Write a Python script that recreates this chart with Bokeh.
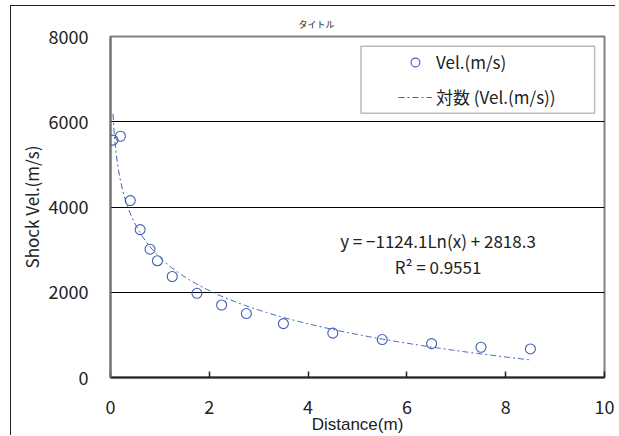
import numpy as np
from bokeh.plotting import figure
from bokeh.models import (ColumnDataSource, Label, Legend, LegendItem, BoxAnnotation,
                          FixedTicker, Range1d, InlineStyleSheet)
from bokeh.embed import file_html
from bokeh.resources import INLINE

# ---- data ----
distance = [0.05, 0.2, 0.4, 0.6, 0.8, 0.95, 1.25, 1.75, 2.25, 2.75, 3.5, 4.5, 5.5, 6.5, 7.5, 8.5]
velocity = [5570, 5660, 4150, 3470, 3010, 2740, 2370, 1975, 1700, 1500, 1265, 1040, 890, 795, 710, 670]
fit_a = -1124.1
fit_b = 2818.3
r_squared = 0.9551
x_ticks = [0, 2, 4, 6, 8, 10]
y_ticks = [0, 2000, 4000, 6000, 8000]
title_text = "タイトル"
x_label = "Distance(m)"
y_label = "Shock Vel.(m/s)"
series_name = "Vel.(m/s)"
trend_name = "対数 (Vel.(m/s))"

FONT = "Noto Sans CJK JP"
BLUE = "#3f5fb5"

sheet = InlineStyleSheet(css=":host { margin-left: 10px; margin-top: 5px; "
                             "border-left: 1px solid #222; border-top: 1px solid #222; }")

p = figure(width=605, height=430, output_backend="svg", toolbar_location=None,
           x_range=Range1d(0, 10), y_range=Range1d(0, 8000),
           min_border_left=99, min_border_right=12, min_border_top=30, min_border_bottom=50,
           stylesheets=[sheet])
p.background_fill_color = "white"
p.border_fill_color = "white"
p.outline_line_color = "#808080"
p.outline_line_width = 2

# title
p.title.text = title_text
p.title.align = "left"
p.title.offset = 188
p.title.text_font = FONT
p.title.text_font_size = "9px"
p.title.text_font_style = "normal"
p.title.text_color = "#222222"
p.title.standoff = 11

# grids
p.xgrid.visible = False
p.ygrid.ticker = FixedTicker(ticks=y_ticks)
p.ygrid.grid_line_color = "black"
p.ygrid.grid_line_width = 1

# axes
p.xaxis.ticker = FixedTicker(ticks=x_ticks)
p.yaxis.ticker = FixedTicker(ticks=y_ticks)
for ax in (p.xaxis[0], p.yaxis[0]):
    ax.major_label_text_font = FONT
    ax.major_label_text_font_size = "18px"
    ax.major_label_text_color = "#222222"
    ax.axis_label_text_font = FONT
    ax.axis_label_text_font_size = "17px"
    ax.axis_label_text_font_style = "normal"
    ax.axis_label_text_color = "#222222"
    ax.minor_tick_line_color = None
    ax.axis_line_width = 2
p.xaxis.axis_label_text_font = "Liberation Sans"
p.xaxis.axis_line_color = "#222222"
p.yaxis.axis_line_color = "#707070"
p.xaxis.major_tick_in = 6
p.xaxis.major_tick_out = 0
p.xaxis.major_tick_line_color = "#222222"
p.xaxis.major_tick_line_width = 1.5
p.yaxis.major_tick_in = 0
p.yaxis.major_tick_out = 0
p.xaxis.major_label_standoff = 22
p.yaxis.major_label_standoff = 22
p.xaxis.axis_label = x_label
p.yaxis.axis_label = y_label
p.xaxis.axis_label_standoff = -2
p.yaxis.axis_label_standoff = 2

# trend line from fitted coefficients
xs = np.linspace(min(distance), max(distance), 300)
ys = fit_a * np.log(xs) + fit_b
trend = p.line(xs, ys, line_color=BLUE, line_width=1, line_dash="6 3 2 3")

src = ColumnDataSource(dict(x=distance, y=velocity))
pts = p.scatter("x", "y", source=src, marker="circle", size=10, fill_color=None,
                line_color=BLUE, line_width=1.1)

# legend box
box = BoxAnnotation(left=5.07, right=9.80, top=7770, bottom=6200,
                    fill_color="white", fill_alpha=1, line_color="#222222", line_width=1.5)
p.add_layout(box)

legend = Legend(items=[LegendItem(label=series_name, renderers=[pts]),
                       LegendItem(label=trend_name, renderers=[trend])],
                location=(288, 268), padding=0, spacing=10, glyph_width=34, glyph_height=22,
                label_standoff=4, background_fill_alpha=0, border_line_alpha=0,
                label_text_font=FONT, label_text_font_size="17px", label_text_color="#222222")
p.add_layout(legend)

# equation text
p.add_layout(Label(x=6.63, y=3205, text="y = \u22121124.1Ln(x) + 2818.3", text_align="center",
                   text_baseline="middle", text_font=FONT, text_font_size="17px",
                   text_color="#222222"))
p.add_layout(Label(x=6.63, y=2596, text=f"R\u00b2 = {r_squared}", text_align="center",
                   text_baseline="middle", text_font=FONT, text_font_size="17px",
                   text_color="#222222"))

open("out.html", "w").write(file_html(p, INLINE))
